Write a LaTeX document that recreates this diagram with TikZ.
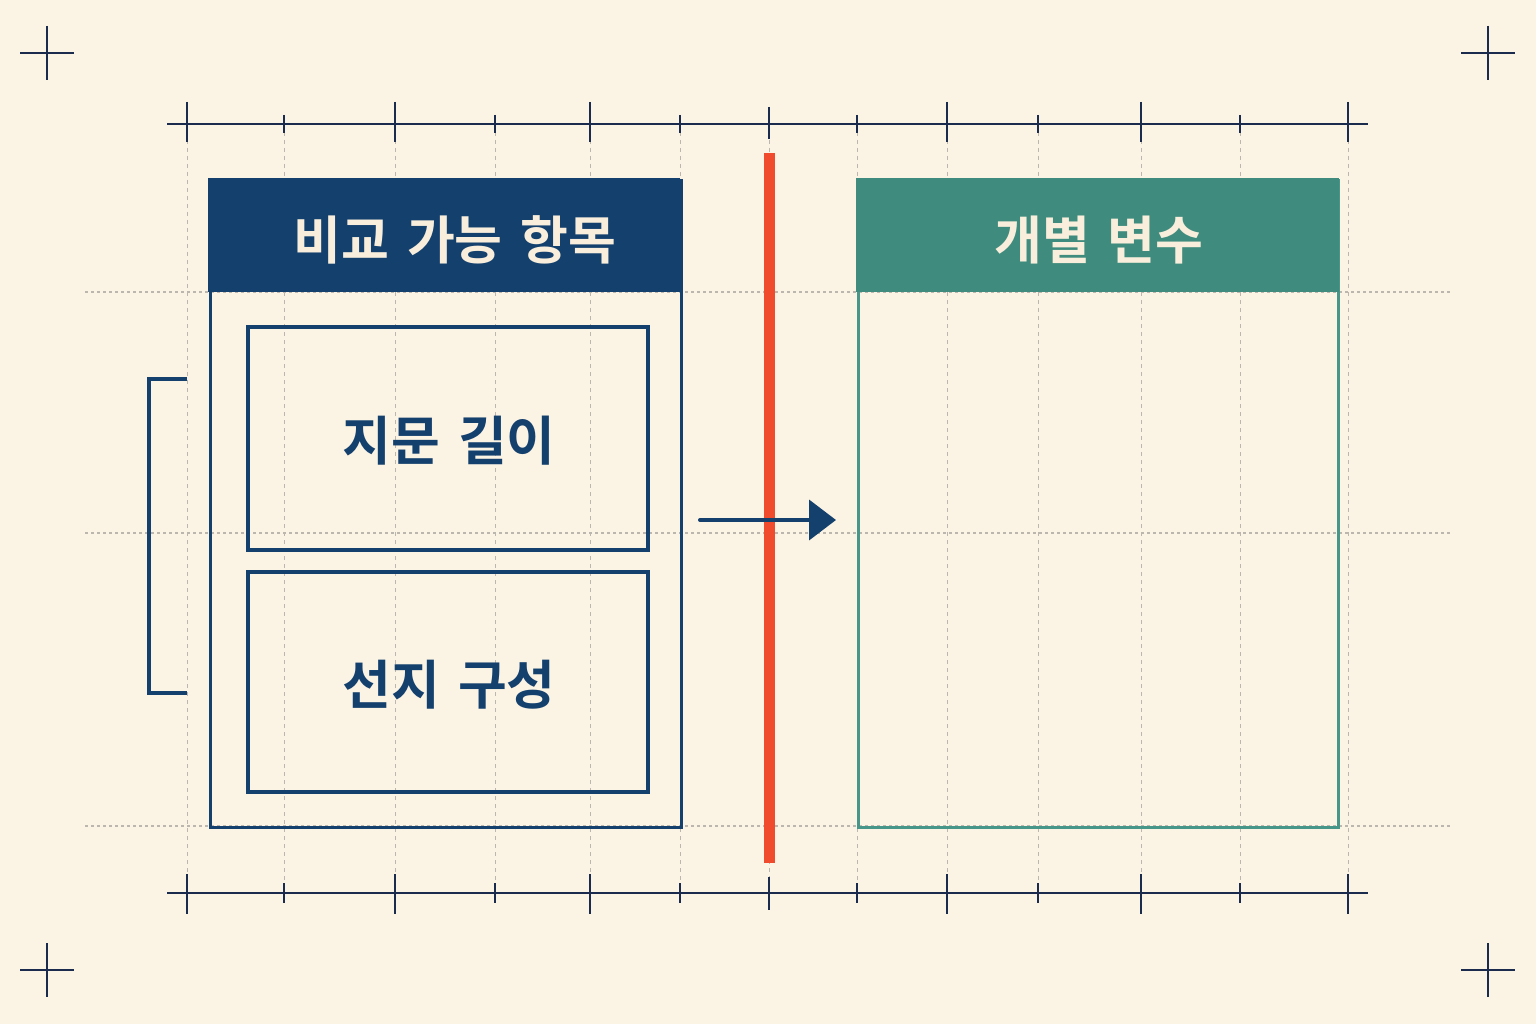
\documentclass[tikz,border=0pt]{standalone}
\usepackage{fontspec}
\setmainfont{Noto Sans CJK KR}[BoldFont={Noto Sans CJK KR Bold}, WordSpace=1.5]
\usetikzlibrary{arrows.meta}
\definecolor{paper}{HTML}{FBF3E3}
\definecolor{navy}{HTML}{14406E}
\definecolor{ink}{HTML}{1A2B4E}
\definecolor{teal}{HTML}{3F8B7D}
\definecolor{tealline}{HTML}{46978A}
\definecolor{redbar}{HTML}{F04B2D}
\definecolor{gridc}{HTML}{BBB7AE}
\definecolor{cream}{HTML}{F8EEDB}
\tikzset{
  vgrid/.style={gridc, line width=1pt, dash pattern=on 4pt off 4pt},
  hgrid/.style={gridc, line width=1.2pt, dash pattern=on 2.5pt off 3.5pt},
  ruler/.style={ink, line width=2.4pt},
  tickmaj/.style={ink, line width=2.4pt},
  headerbox/.style={rectangle, inner sep=0pt, anchor=north west},
  panelbox/.style={rectangle, draw, line width=3.2pt, inner sep=0pt, anchor=north west},
  itembox/.style={rectangle, draw=navy, line width=3.6pt, inner sep=0pt, anchor=north west},
  headtext/.style={text=cream, font=\bfseries\fontsize{52}{56}\selectfont},
  itemtext/.style={text=navy, font=\bfseries\fontsize{53}{57}\selectfont},
  cross/.style={ink, line width=2pt},
}
\begin{document}
\begin{tikzpicture}[x=1pt,y=-1pt]
\fill[paper] (0,0) rectangle (1536,1024);
\useasboundingbox (0,0) rectangle (1536,1024);
% grid lines
\foreach \x in {187,284,395,495,590,680,769,857,947,1038,1141,1240,1348}
  \draw[vgrid] (\x,124) -- (\x,893);
\foreach \y in {292,533,826}
  \draw[hgrid] (85,\y) -- (1452,\y);
% rulers
\draw[ruler] (167,124) -- (1368,124);
\draw[ruler] (167,893) -- (1368,893);
\foreach \x in {187,395,590,947,1141,1348} {
  \draw[tickmaj] (\x,102) -- (\x,142);
  \draw[tickmaj] (\x,874) -- (\x,914);
}
\foreach \x in {284,495,680,857,1038,1240} {
  \draw[ink, line width=1.6pt] (\x,115) -- (\x,133);
  \draw[ink, line width=1.6pt] (\x,883) -- (\x,903);
}
\draw[tickmaj] (769,107) -- (769,139);
\draw[tickmaj] (769,877) -- (769,910);
% corner crosses
\foreach \cx/\cy in {47/53,1488/53,47/970,1488/970} {
  \draw[cross] (\cx-27,\cy) -- (\cx+27,\cy);
  \draw[cross] (\cx,\cy-27) -- (\cx,\cy+27);
}
% left panel
\node[panelbox, draw=navy, minimum width=471pt, minimum height=647pt] (lpanel) at (209,179) {};
\node[headerbox, fill=navy, minimum width=472.5pt, minimum height=114pt] (lhead) at (207.5,178) {};
\node[headtext] (lheadtxt) at (455,240) {비교 가능 항목};
\node[itembox, minimum width=400pt, minimum height=223pt] (item1) at (246,325) {};
\node[itemtext] (item1txt) at (449,441) {지문 길이};
\node[itembox, minimum width=400pt, minimum height=220pt] (item2) at (246,570) {};
\node[itemtext] (item2txt) at (449,685) {선지 구성};
% bracket
\coordinate (bt) at (187,379);
\coordinate (bb) at (187,693);
\draw[navy, line width=3.5pt] (bt) -- (149,379) -- (149,693) -- (bb);
% right panel
\node[panelbox, draw=tealline, minimum width=480pt, minimum height=647pt] (rpanel) at (857,179) {};
\node[headerbox, fill=teal, minimum width=483pt, minimum height=114pt] (rhead) at (855.5,178) {};
\node[headtext] (rheadtxt) at (1099,240) {개별 변수};
% red divider
\node[rectangle, fill=redbar, inner sep=0pt, minimum width=11pt, minimum height=710pt, anchor=north] (divider) at (769.5,153) {};
% arrow
\coordinate (as) at (700,520);
\coordinate (ae) at (836,520);
\draw[navy, line width=4pt, line cap=round, -{Triangle[length=27pt,width=40pt]}] (as) -- (ae);
\end{tikzpicture}
\end{document}
